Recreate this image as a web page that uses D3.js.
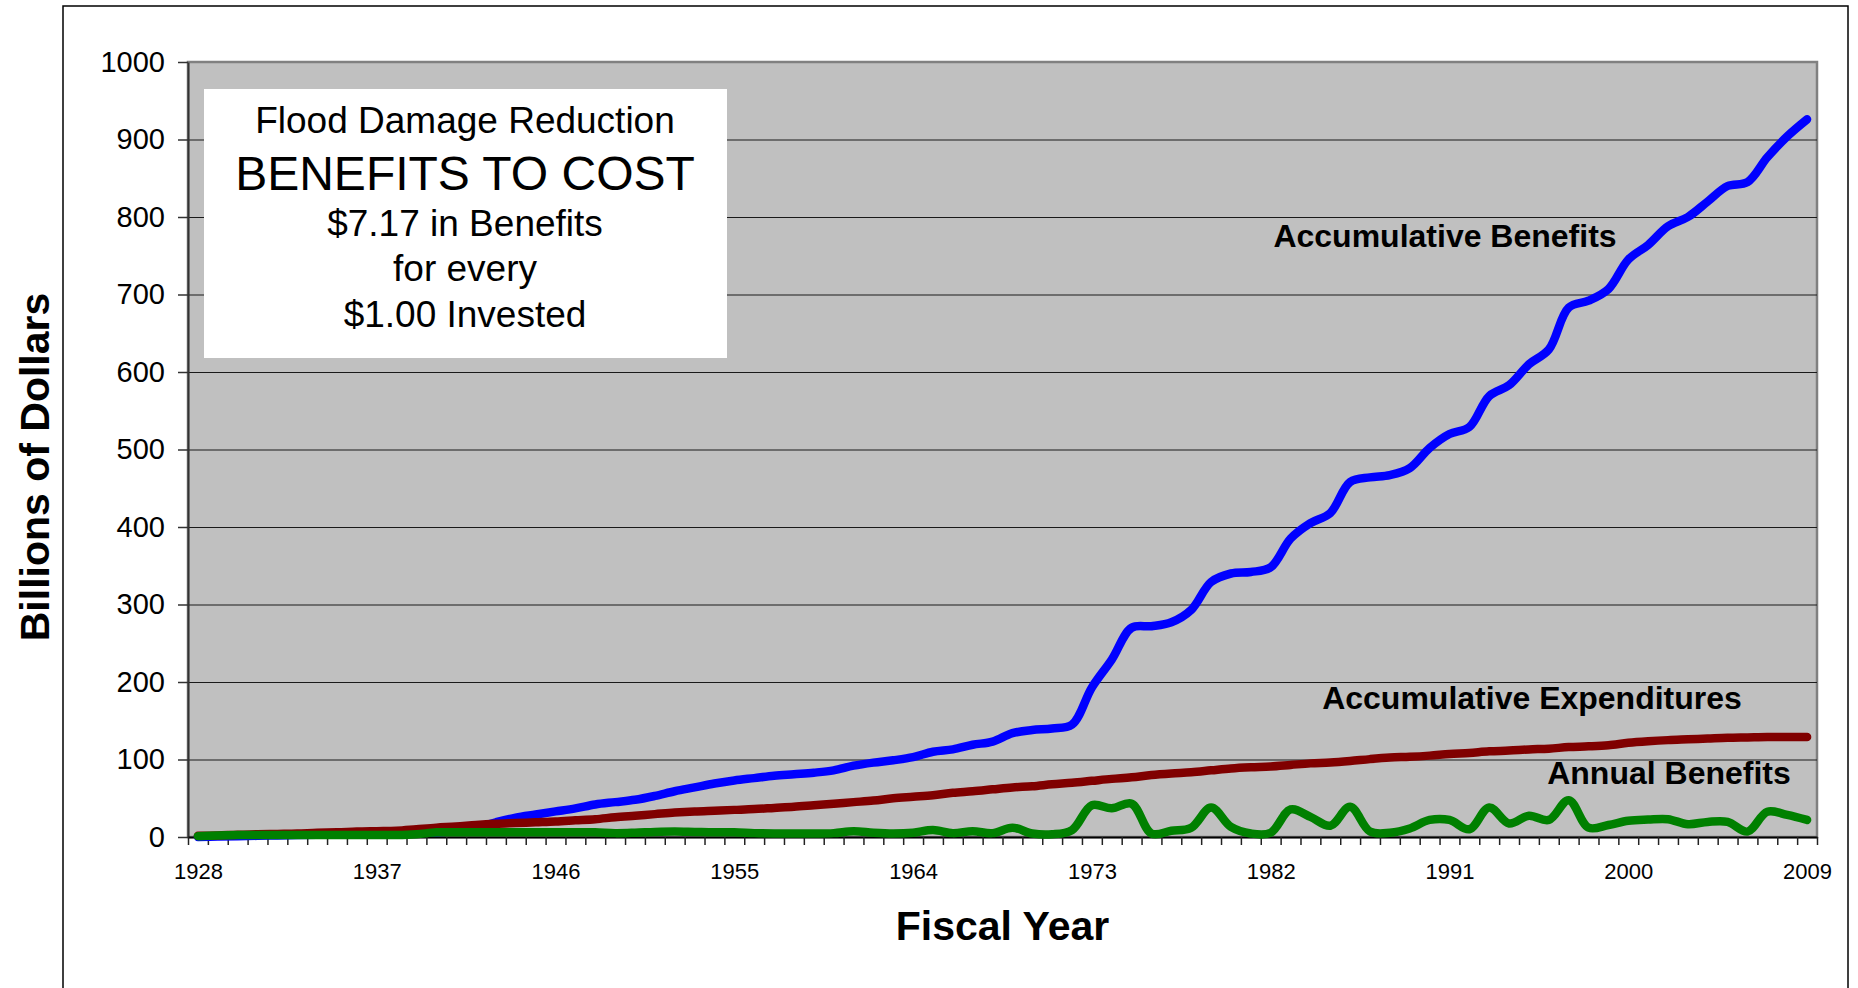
<!DOCTYPE html>
<html>
<head>
<meta charset="utf-8">
<script src="https://cdn.jsdelivr.net/npm/d3@7"></script>
<style>
    body { margin: 0; background: #fff; }
    text { font-family: "Liberation Sans", Arial, sans-serif; }
</style>
</head>
<body>
<div id="chart"></div>
<script>
'use strict';

var years = [
    1928, 1929, 1930, 1931, 1932, 1933, 1934, 1935, 1936, 1937,
    1938, 1939, 1940, 1941, 1942, 1943, 1944, 1945, 1946, 1947,
    1948, 1949, 1950, 1951, 1952, 1953, 1954, 1955, 1956, 1957,
    1958, 1959, 1960, 1961, 1962, 1963, 1964, 1965, 1966, 1967,
    1968, 1969, 1970, 1971, 1972, 1973, 1974, 1975, 1976, 1977,
    1978, 1979, 1980, 1981, 1982, 1983, 1984, 1985, 1986, 1987,
    1988, 1989, 1990, 1991, 1992, 1993, 1994, 1995, 1996, 1997,
    1998, 1999, 2000, 2001, 2002, 2003, 2004, 2005, 2006, 2007,
    2008, 2009
];

// billions of dollars
var accumBenefits = [
    0, 0.5, 1, 1.5, 2, 2.5, 3, 3.5, 4, 4.5,
    5, 5.5, 6, 8, 12, 19, 25, 29, 33, 37,
    42, 45, 48, 53, 59, 64, 69, 73, 76, 79,
    81, 83, 86, 92, 96, 99, 103, 110, 113, 119,
    123, 134, 138, 140, 145, 193, 229, 270, 272, 277,
    293, 329, 340, 342, 348, 385, 405, 418, 458, 464,
    467, 476, 502, 520, 529, 569, 583, 610, 629, 683,
    692, 707, 745, 764, 788, 800, 820, 840, 845, 877,
    904, 926
];

var accumExpenditures = [
    1.5, 2, 3, 3.5, 4, 4.5, 5.5, 6, 7, 7.5,
    8, 10, 12, 13.5, 15.5, 17, 18, 19, 20, 21.5,
    23, 25.5, 27.5, 29.5, 31.5, 33, 34, 35, 36, 37.5,
    39, 41, 43, 45, 47, 50, 52, 54, 57, 59,
    61.5, 64, 65.5, 68, 70, 72.5, 75, 77, 80, 82,
    83.5, 86, 88.5, 90, 91, 93, 95, 96, 98, 100.5,
    102.5, 103.5, 105, 107, 108.5, 110.5, 111.5, 113, 114, 116,
    117, 118.5, 121.5, 123.5, 125, 126, 127, 128, 128.5, 129,
    129, 129
];

var annualBenefits = [
    1, 2, 2.5, 2.5, 2.5, 2.5, 2.5, 2.5, 2.5, 2.5,
    2.5, 3.5, 6, 6, 6, 6, 6, 6, 6, 6,
    6, 5, 5.5, 6.5, 7, 6.5, 6, 6, 5, 4.5,
    4.5, 4.5, 5, 7.5, 5.5, 4.5, 5.5, 9, 5, 7.5,
    5, 12, 4.5, 3.5, 9, 41, 37, 43, 4.5, 8,
    12, 38, 13, 4.5, 5.5, 35.5, 26, 14.5, 39, 7,
    5.5, 11, 22, 22, 10, 38, 17.5, 27.5, 22, 47.5,
    12, 15.5, 21, 22.5, 23, 16.5, 19.5, 19.5, 7, 32.5,
    28.5, 22
];

var yTicks = [0, 100, 200, 300, 400, 500, 600, 700, 800, 900, 1000];
var xTickLabels = [1928, 1937, 1946, 1955, 1964, 1973, 1982, 1991, 2000, 2009];

var boxLines = [
    "Flood Damage Reduction",
    "BENEFITS TO COST",
    "$7.17 in Benefits",
    "for every",
    "$1.00 Invested"
];

var CONFIG = {
    width: 1858,
    height: 988,
    plot: { left: 188, top: 62, right: 1817, bottom: 837 },
    colors: { benefits: "#0000FF", expenditures: "#800000", annual: "#008000" }
};

var svg = d3.select("#chart").append("svg")
    .attr("width", CONFIG.width)
    .attr("height", CONFIG.height);

var p = CONFIG.plot;

// chart area frame (bottom runs off the page)
svg.append("rect")
    .attr("x", 63).attr("y", 6)
    .attr("width", 1848 - 63).attr("height", 1000)
    .attr("fill", "#fff")
    .attr("stroke", "#000")
    .attr("stroke-width", 1.5);

// plot area
svg.append("rect")
    .attr("x", p.left).attr("y", p.top)
    .attr("width", p.right - p.left).attr("height", p.bottom - p.top)
    .attr("fill", "#C0C0C0")
    .attr("stroke", "#808080")
    .attr("stroke-width", 2.5);

// category axis: each year sits in the middle of its slot
var x = d3.scaleLinear()
    .domain([years[0] - 0.5, years[years.length - 1] + 0.5])
    .range([p.left, p.right]);

var y = d3.scaleLinear()
    .domain([0, 1000])
    .range([p.bottom, p.top]);

// gridlines
svg.append("g")
    .attr("class", "grid")
    .attr("transform", "translate(" + p.left + ",0)")
    .call(d3.axisLeft(y)
        .tickValues(yTicks.slice(1, -1))
        .tickSize(-(p.right - p.left))
        .tickFormat(""))
    .call(function (g) { g.select(".domain").remove(); })
    .selectAll("line")
    .attr("stroke", "#1a1a1a")
    .attr("stroke-width", 1.2);

// y axis
var yAxis = svg.append("g")
    .attr("transform", "translate(" + p.left + ",0)")
    .call(d3.axisLeft(y)
        .tickValues(yTicks)
        .tickSize(10)
        .tickPadding(13)
        .tickSizeOuter(0)
        .tickFormat(d3.format("d")));
yAxis.select(".domain").attr("stroke", "#333").attr("stroke-width", 2);
yAxis.selectAll(".tick line").attr("stroke", "#333").attr("stroke-width", 1.5);
yAxis.selectAll("text")
    .attr("font-size", 29)
    .attr("fill", "#000")
    .style("font-family", "'Liberation Sans', Arial, sans-serif");

// x axis ticks between years
var boundaries = years.map(function (d) { return d - 0.5; });
boundaries.push(years[years.length - 1] + 0.5);

var xAxis = svg.append("g")
    .attr("transform", "translate(0," + p.bottom + ")")
    .call(d3.axisBottom(x)
        .tickValues(boundaries)
        .tickSize(8)
        .tickSizeOuter(0)
        .tickFormat(""));
xAxis.select(".domain").attr("stroke", "#000").attr("stroke-width", 2);
xAxis.selectAll(".tick line").attr("stroke", "#222").attr("stroke-width", 1.5);

var xLabels = svg.append("g")
    .attr("transform", "translate(0," + p.bottom + ")")
    .call(d3.axisBottom(x)
        .tickValues(xTickLabels)
        .tickSize(0)
        .tickPadding(26)
        .tickFormat(d3.format("d")));
xLabels.select(".domain").remove();
xLabels.selectAll("text")
    .attr("font-size", 22)
    .attr("fill", "#000")
    .style("font-family", "'Liberation Sans', Arial, sans-serif");

// series
var series = [
    { values: accumBenefits, color: CONFIG.colors.benefits },
    { values: accumExpenditures, color: CONFIG.colors.expenditures },
    { values: annualBenefits, color: CONFIG.colors.annual }
];

var line = d3.line()
    .x(function (d, i) { return x(years[i]); })
    .y(function (d) { return y(d); })
    .curve(d3.curveCatmullRom.alpha(0.5));

svg.append("g").selectAll("path")
    .data(series)
    .join("path")
    .attr("fill", "none")
    .attr("stroke", function (d) { return d.color; })
    .attr("stroke-width", 8.5)
    .attr("stroke-linecap", "round")
    .attr("stroke-linejoin", "round")
    .attr("d", function (d) { return line(d.values); });

// series labels
var labels = [
    { text: "Accumulative Benefits", x: 1445, y: 247 },
    { text: "Accumulative Expenditures", x: 1532, y: 709 },
    { text: "Annual Benefits", x: 1669, y: 784 }
];
svg.append("g").selectAll("text")
    .data(labels)
    .join("text")
    .attr("x", function (d) { return d.x; })
    .attr("y", function (d) { return d.y; })
    .attr("text-anchor", "middle")
    .attr("font-size", 32)
    .attr("font-weight", "bold")
    .text(function (d) { return d.text; });

// text box
svg.append("rect")
    .attr("x", 204).attr("y", 89)
    .attr("width", 727 - 204).attr("height", 358 - 89)
    .attr("fill", "#fff");

var boxBaselines = [133, 190, 236, 281, 327];
var boxSizes = [37, 48, 37, 37, 37];
svg.append("g").selectAll("text")
    .data(boxLines)
    .join("text")
    .attr("x", 465)
    .attr("y", function (d, i) { return boxBaselines[i]; })
    .attr("text-anchor", "middle")
    .attr("font-size", function (d, i) { return boxSizes[i]; })
    .text(function (d) { return d; });

// axis titles
svg.append("text")
    .attr("transform", "translate(49,467) rotate(-90)")
    .attr("text-anchor", "middle")
    .attr("font-size", 41)
    .attr("font-weight", "bold")
    .text("Billions of Dollars");

svg.append("text")
    .attr("x", (p.left + p.right) / 2)
    .attr("y", 940)
    .attr("text-anchor", "middle")
    .attr("font-size", 41)
    .attr("font-weight", "bold")
    .text("Fiscal Year");
</script>
</body>
</html>
